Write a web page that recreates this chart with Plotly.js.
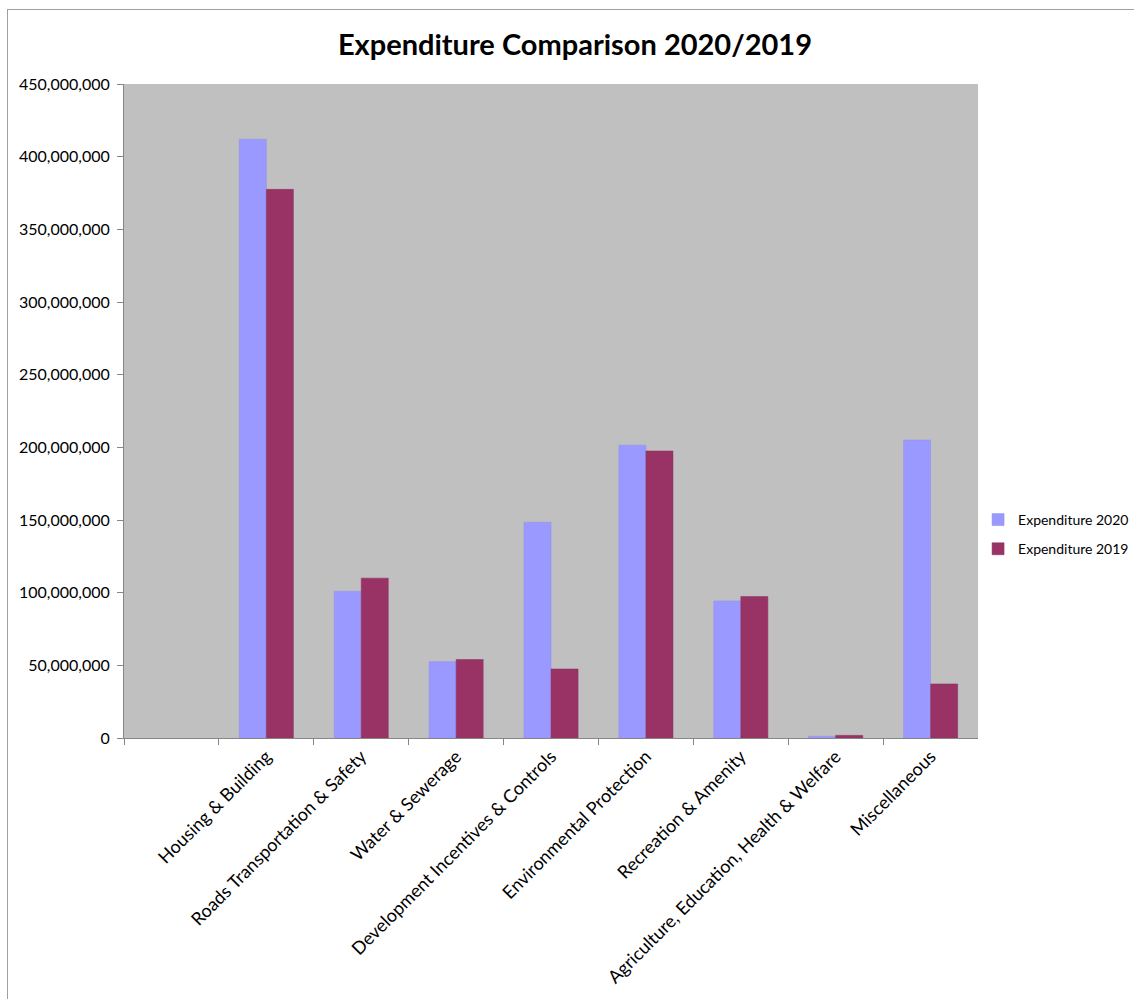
<!DOCTYPE html>
<html>
<head>
<meta charset="utf-8">
<script src="https://cdn.plot.ly/plotly-3.0.1.min.js"></script>
<style>
html,body{margin:0;padding:0;background:#fff;overflow:hidden;}
#frame{position:absolute;left:7px;top:9px;width:1200px;height:1100px;border:1px solid #a0a0a0;box-sizing:border-box;pointer-events:none;z-index:5;}
#chart{width:1134px;height:999px;}
</style>
</head>
<body>
<div id="frame"></div>
<div id="chart"></div>
<script>
var categories = [" ", "Housing & Building", "Roads Transportation & Safety", "Water & Sewerage",
  "Development Incentives & Controls", "Environmental Protection", "Recreation & Amenity",
  "Agriculture, Education, Health & Welfare", "Miscellaneous"];
var expenditure2020 = [null, 412000000, 101000000, 52500000, 148500000, 201500000, 94300000, 1200000, 205000000];
var expenditure2019 = [null, 377500000, 110000000, 54000000, 47500000, 197500000, 97300000, 1800000, 37200000];
var seriesNames = ["Expenditure 2020", "Expenditure 2019"];
var yTicks = [0, 50000000, 100000000, 150000000, 200000000, 250000000, 300000000, 350000000, 400000000, 450000000];

var font = "Lato, 'Open Sans', sans-serif";
var traces = [
  {type:"bar", name:seriesNames[0], x:categories, y:expenditure2020, legendgroup:"a",
   marker:{color:"#9999FF", line:{color:"#8f8fef", width:0.5}}},
  {type:"bar", name:seriesNames[1], x:categories, y:expenditure2019, legendgroup:"b",
   marker:{color:"#993366", line:{color:"#8a2e5c", width:0.5}}}
];
var layout = {
  width:1134, height:999,
  margin:{l:124, r:155, t:84, b:261, pad:0},
  paper_bgcolor:"#ffffff", plot_bgcolor:"#C0C0C0",
  font:{family:font, size:16, color:"#000"},
  title:{text:"<b>Expenditure Comparison 2020/2019</b>", x:0.507, xanchor:"center", y:0.955, yanchor:"middle",
         font:{family:font, size:29, color:"#000"}},
  barmode:"group", bargap:0.43, bargroupgap:0,
  showlegend:true,
  legend:{xref:"container", yref:"container", x:0.8625, xanchor:"left", y:0.465, yanchor:"middle",
          font:{family:font, size:14, color:"#000"}, traceorder:"grouped",
          bgcolor:"rgba(0,0,0,0)", tracegroupgap:8, itemwidth:30},
  xaxis:{type:"category", categoryorder:"array", categoryarray:categories, range:[-0.5, 8.5],
         tickangle:-45, ticks:"outside", ticklen:6, tickcolor:"#868686", tickson:"boundaries",
         showline:true, linecolor:"#868686", linewidth:1, showgrid:false, zeroline:false,
         tickfont:{family:font, size:18, color:"#000"}, fixedrange:true},
  yaxis:{range:[0, 450000000], tickvals:yTicks, tickformat:",d", ticks:"outside", ticklen:6,
         tickcolor:"#868686", showline:true, linecolor:"#868686", linewidth:1, showgrid:false, zeroline:false,
         tickfont:{family:font, size:16, color:"#000"}, ticklabelstandoff:4}
};
Plotly.newPlot("chart", traces, layout, {displayModeBar:false, staticPlot:true});
</script>
</body>
</html>
